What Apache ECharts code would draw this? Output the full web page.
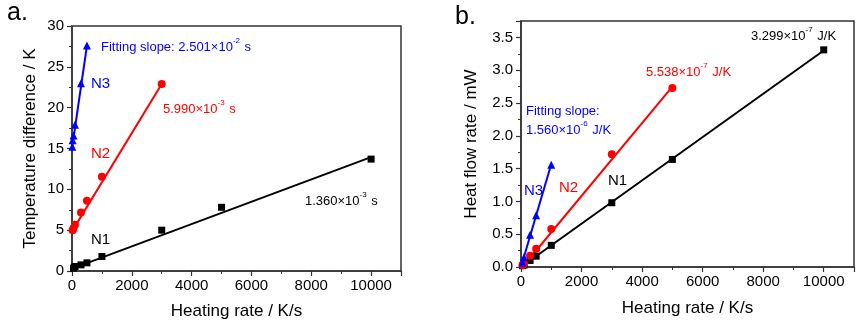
<!DOCTYPE html>
<html><head><meta charset="utf-8">
<script src="https://cdn.jsdelivr.net/npm/echarts@6/dist/echarts.min.js"></script>
<style>html,body{margin:0;padding:0;background:#fff}#c{width:865px;height:326px}</style>
</head><body><div id="c"></div>
<script>
// ---- Panel a: temperature difference (K) vs heating rate (K/s) ----
const rateA_N1 = [50, 100, 300, 500, 1000, 3000, 5000, 10000];
const tempA_N1 = [0.35, 0.55, 0.75, 1.0, 1.78, 5.0, 7.8, 13.7];
const rateA_N2 = [20, 50, 100, 300, 500, 1000, 3000];
const tempA_N2 = [5.0, 5.25, 5.66, 7.15, 8.6, 11.55, 22.9];
const rateA_N3 = [10, 20, 50, 100, 300, 500];
const tempA_N3 = [15.2, 16.0, 16.6, 17.9, 23.0, 27.6];
// fitted lines (end points)
const fitA_N1 = [[50, 0.35], [10000, 13.95]];
const fitA_N2 = [[0, 4.85], [3000, 22.9]];
const fitA_N3 = [[0, 15.0], [500, 27.6]];

// ---- Panel b: heat flow rate (mW) vs heating rate (K/s) ----
const rateB_N1 = [50, 100, 300, 500, 1000, 3000, 5000, 10000];
const flowB_N1 = [0.02, 0.03, 0.1, 0.165, 0.33, 0.98, 1.64, 3.31];
const rateB_N2 = [50, 100, 300, 500, 1000, 3000, 5000];
const flowB_N2 = [0.03, 0.05, 0.17, 0.28, 0.58, 1.72, 2.73];
const rateB_N3 = [50, 100, 300, 500, 1000];
const flowB_N3 = [0.07, 0.15, 0.49, 0.79, 1.56];
const fitB_N1 = [[0, 0], [10000, 3.3]];
const fitB_N2 = [[50, 0], [5000, 2.75]];
const fitB_N3 = [[0, 0], [1000, 1.57]];

const xRange = [0, 11000];
const yRangeA = [0, 30];
const yRangeB = [0, 3.75];

const FONT = 'Liberation Sans, Arial, sans-serif';
const BLACK = '#000000', RED = '#ff0000', BLUE = '#0000ff';

function zip(xs, ys) { return xs.map((x, i) => [x, ys[i]]); }

function xAxisCfg(gi, gap) {
  return {
    type: 'value', gridIndex: gi, min: xRange[0], max: xRange[1], interval: 2000,
    name: 'Heating rate / K/s', nameLocation: 'middle', nameGap: gap,
    nameTextStyle: { fontFamily: FONT, fontSize: 17, color: '#000' },
    axisLine: { onZero: false, lineStyle: { color: '#333', width: 1.5 } },
    axisTick: { length: 5, lineStyle: { color: '#333', width: 1.2 } },
    minorTick: { show: true, splitNumber: 2, length: 3, lineStyle: { color: '#333', width: 1 } },
    axisLabel: { fontFamily: FONT, fontSize: 15, color: '#000', margin: 7, showMaxLabel: false,
      formatter: v => String(v) },
    splitLine: { show: false }
  };
}
function yAxisCfg(gi, rng, interval, name, gap, digits) {
  return {
    type: 'value', gridIndex: gi, min: rng[0], max: rng[1], interval: interval,
    name: name, nameLocation: 'middle', nameGap: gap,
    nameTextStyle: { fontFamily: FONT, fontSize: 17, color: '#000' },
    axisLine: { show: true, onZero: false, lineStyle: { color: '#333', width: 1.5 } },
    axisTick: { show: true, length: 5, lineStyle: { color: '#333', width: 1.2 } },
    minorTick: { show: true, splitNumber: 2, length: 3, lineStyle: { color: '#333', width: 1 } },
    axisLabel: { fontFamily: FONT, fontSize: 15, color: '#000', margin: 8, showMaxLabel: digits ? false : true,
      formatter: v => digits ? v.toFixed(digits) : String(v) },
    splitLine: { show: false }
  };
}
function scatter(xi, yi, data, color, symbol, size) {
  return { type: 'scatter', xAxisIndex: xi, yAxisIndex: yi, data: data, symbol: symbol, symbolSize: size,
    itemStyle: { color: color, opacity: 1 }, z: 3, silent: true };
}
function fit(xi, yi, data, color) {
  return { type: 'line', xAxisIndex: xi, yAxisIndex: yi, data: data, showSymbol: false, symbol: 'none',
    lineStyle: { color: color, width: 2 }, z: 2, silent: true, animation: false };
}

function txt(x, y, color, parts, size) {
  let s = '';
  parts.forEach(p => { s += p[1] ? '{s|' + p[0] + '}' : '{n|' + p[0] + '}'; });
  return {
    type: 'text', x: x, y: y, z: 10,
    style: {
      text: s, verticalAlign: 'middle', align: 'left',
      rich: {
        n: { fontFamily: FONT, fontSize: size, fill: color, lineHeight: size + 4, verticalAlign: 'bottom' },
        s: { fontFamily: FONT, fontSize: Math.round(size * 0.65), fill: color, lineHeight: size + 4, verticalAlign: 'top', padding: [0, 1, 0, 0] }
      }
    }
  };
}

const chart = echarts.init(document.getElementById('c'), null, { renderer: 'canvas' });
chart.setOption({
  animation: false,
  backgroundColor: '#fff',
  grid: [
    { left: 72, right: 464, top: 26, bottom: 55, show: true, borderColor: '#333', borderWidth: 1.5 },
    { left: 521, right: 11, top: 21, bottom: 59, show: true, borderColor: '#333', borderWidth: 1.5 }
  ],
  xAxis: [xAxisCfg(0, 32), xAxisCfg(1, 33)],
  yAxis: [
    yAxisCfg(0, yRangeA, 5, 'Temperature difference / K', 33, 0),
    yAxisCfg(1, yRangeB, 0.5, 'Heat flow rate / mW', 41, 1)
  ],
  series: [
    fit(0, 0, fitA_N1, BLACK), fit(0, 0, fitA_N2, RED), fit(0, 0, fitA_N3, BLUE),
    scatter(0, 0, zip(rateA_N1, tempA_N1), BLACK, 'rect', 7),
    scatter(0, 0, zip(rateA_N2, tempA_N2), RED, 'circle', 8),
    scatter(0, 0, zip(rateA_N3, tempA_N3), BLUE, 'triangle', 8),
    fit(1, 1, fitB_N1, BLACK), fit(1, 1, fitB_N2, RED), fit(1, 1, fitB_N3, BLUE),
    scatter(1, 1, zip(rateB_N1, flowB_N1), BLACK, 'rect', 7),
    scatter(1, 1, zip(rateB_N2, flowB_N2), RED, 'circle', 8),
    scatter(1, 1, zip(rateB_N3, flowB_N3), BLUE, 'triangle', 8)
  ],
  graphic: [
    { type: 'text', x: 7, y: 13, style: { text: 'a.', fontFamily: FONT, fontSize: 25, fill: '#000', verticalAlign: 'middle' } },
    { type: 'text', x: 455, y: 17, style: { text: 'b.', fontFamily: FONT, fontSize: 25, fill: '#000', verticalAlign: 'middle' } },
    txt(101, 45, BLUE, [['Fitting slope: 2.501×10', 0], ['-2', 1], [' s', 0]], 13),
    txt(91, 82, BLUE, [['N3', 0]], 15),
    txt(163, 107, RED, [['5.990×10', 0], ['-3', 1], [' s', 0]], 13),
    txt(91, 152, RED, [['N2', 0]], 15),
    txt(305, 199, BLACK, [['1.360×10', 0], ['-3', 1], [' s', 0]], 13),
    txt(91, 238, BLACK, [['N1', 0]], 15),
    txt(751, 34, BLACK, [['3.299×10', 0], ['-7', 1], [' J/K', 0]], 13),
    txt(646, 70, RED, [['5.538×10', 0], ['-7', 1], [' J/K', 0]], 13),
    txt(526, 109, BLUE, [['Fitting slope:', 0]], 13),
    txt(526, 128, BLUE, [['1.560×10', 0], ['-6', 1], [' J/K', 0]], 13),
    txt(524, 189, BLUE, [['N3', 0]], 15),
    txt(559, 186, RED, [['N2', 0]], 15),
    txt(608, 179, BLACK, [['N1', 0]], 15)
  ]
});
</script></body></html>
